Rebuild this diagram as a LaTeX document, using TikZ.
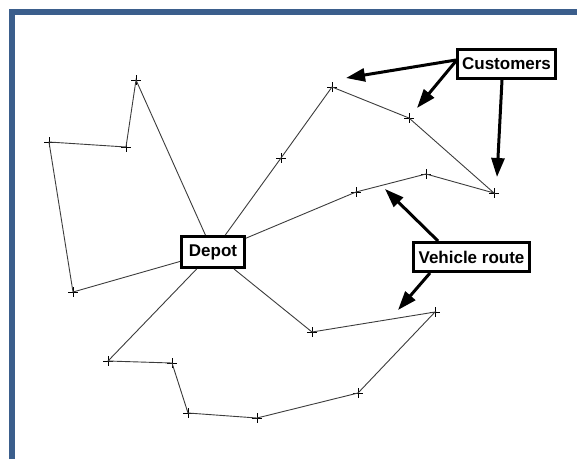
\documentclass[tikz,border=0pt]{standalone}
\usepackage{fontspec}
\setsansfont{Liberation Sans}
\usepackage{tikz}
\usetikzlibrary{positioning,arrows.meta,shapes.misc}
\definecolor{framecolor}{RGB}{59, 94, 140}
\definecolor{routecolor}{RGB}{60, 60, 60}
\tikzset{
    customer/.style={cross out, draw=black, rotate=45, minimum size=5.8pt, inner sep=0pt, line width=0.8pt},
    route/.style={draw=routecolor, line width=0.9pt},
    callout/.style={rectangle, draw=black, line width=3pt, fill=white, font=\sffamily\bfseries\fontsize{17}{20}\selectfont, inner xsep=4.6pt, minimum height=29pt},
    pointer arrow/.style={-{Triangle[length=19pt, width=13pt]}, line width=3pt, black}
}

\begin{document}
\begin{tikzpicture}[x=1pt, y=-1pt]
\useasboundingbox (0,0) rectangle (577,459);
\draw[framecolor, line width=6pt] (12,459) -- (12,12) -- (577,12);

\node[callout, inner xsep=7.4pt, minimum height=31pt] (depot) at (213,252) {Depot};
\node[callout] (customers) at (506.5,64) {Customers};
\node[callout] (vehicle) at (471.5,257) {Vehicle route};

\node[customer] (w1) at (73,292) {};
\node[customer] (w2) at (49,142) {};
\node[customer] (w3) at (126,147) {};
\node[customer] (w4) at (136,80) {};

\node[customer] (n1) at (281,158) {};
\node[customer] (n2) at (332,87) {};
\node[customer] (n3) at (409,118) {};
\node[customer] (n4) at (494,193) {};
\node[customer] (n5) at (426,174) {};
\node[customer] (n6) at (356,192) {};

\node[customer] (s1) at (108,361) {};
\node[customer] (s2) at (172,363) {};
\node[customer] (s3) at (188,413) {};
\node[customer] (s4) at (257,418) {};
\node[customer] (s5) at (358,393) {};
\node[customer] (s6) at (435,312) {};
\node[customer] (s7) at (312,332) {};

\draw[route] (depot) -- (w1.center) -- (w2.center) -- (w3.center) -- (w4.center) -- (depot);
\draw[route] (depot) -- (n1.center) -- (n2.center) -- (n3.center) -- (n4.center) -- (n5.center) -- (n6.center) -- (depot);
\draw[route] (depot) -- (s1.center) -- (s2.center) -- (s3.center) -- (s4.center) -- (s5.center) -- (s6.center) -- (s7.center) -- (depot);

\coordinate (tipA) at (346,78);
\coordinate (tipB) at (417,108);
\coordinate (tipC) at (497,177);
\coordinate (tipD) at (385,189);
\coordinate (tipE) at (398,310);

\draw[pointer arrow] ([yshift=4pt]customers.west) -- (tipA);
\draw[pointer arrow] ([yshift=3pt]customers.west) -- (tipB);
\draw[pointer arrow] ([xshift=-4.5pt]customers.south) -- (tipC);
\draw[pointer arrow] ([xshift=-33.5pt]vehicle.north) -- (tipD);
\draw[pointer arrow] ([xshift=-41.5pt]vehicle.south) -- (tipE);
\end{tikzpicture}
\end{document}
